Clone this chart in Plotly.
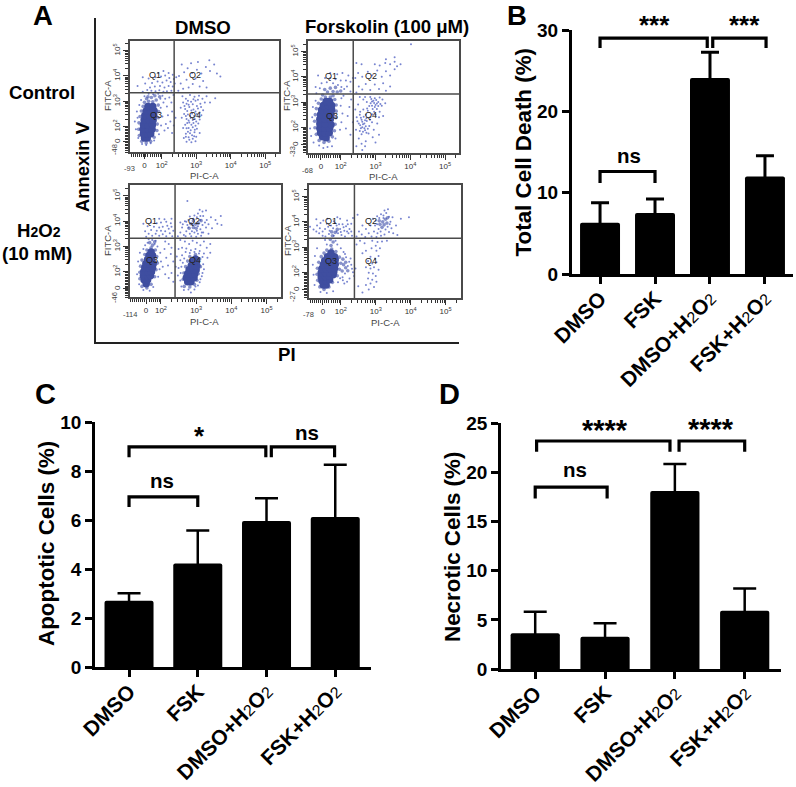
import numpy as np
import plotly.graph_objects as go

W, H = 796, 787
FONT = "Liberation Sans"

# ---------- bar chart data ----------
GROUPS = [0, 1, 2, 3]
SUB2 = '<span style="font-size:16px">2</span>'
GROUP_LABELS = ["<b>DMSO</b>", "<b>FSK</b>",
                f"<b>DMSO+H</b>{SUB2}<b>O</b>{SUB2}",
                f"<b>FSK+H</b>{SUB2}<b>O</b>{SUB2}"]
TOTAL_MEAN = [6.3, 7.5, 24.1, 12.0]
TOTAL_ERR = [2.47, 1.72, 3.17, 2.55]
APOPT_MEAN = [2.72, 4.24, 5.97, 6.13]
APOPT_ERR = [0.3, 1.34, 0.93, 2.14]
NECRO_MEAN = [3.63, 3.29, 18.1, 5.93]
NECRO_ERR = [2.2, 1.36, 2.75, 2.27]

# ---------- flow cytometry events (decade units) ----------
P1_CORE = [(1.5,1.55),(1.58,1.55),(1.47,1.72),(1.6,1.72),(1.68,1.72),(1.46,1.9),(1.6,1.9),(1.72,1.9),(1.47,2.08),(1.6,2.08),(1.73,2.08),
           (1.49,2.26),(1.62,2.26),(1.75,2.26),(1.51,2.44),(1.65,2.44),(1.77,2.44),(1.55,2.62),(1.68,2.62),(1.78,2.62),(1.6,2.8),(1.74,2.8)]
P1_MID = [(1.42,1.42),(1.55,1.36),(1.68,1.42),(1.78,1.58),(1.35,1.65),(1.33,1.9),(1.34,2.15),(1.37,2.4),(1.41,2.62),(1.46,2.8),(1.5,2.96),
          (1.86,1.85),(1.87,2.1),(1.9,2.35),(1.91,2.6),(1.9,2.85),(1.62,3.0),(1.74,2.98),(1.84,3.05),(1.7,3.15),(1.6,3.18),(1.8,3.22),(1.94,3.18),(1.56,3.1)]
P1_DOTS = [(1.25,1.9),(1.3,2.35),(1.28,2.6),(1.22,2.2),(1.35,2.85),(1.4,3.05),(1.32,1.55),(1.43,1.32),(1.55,1.28),(1.68,1.35),
 (1.78,1.45),(1.92,1.7),(1.98,2.05),(2.02,2.4),(1.97,2.75),(2.05,2.95),(1.96,3.1),(1.9,3.3),(2.02,3.22),(1.75,3.28),
 (1.62,3.3),(1.5,3.2),(1.45,3.38),(1.58,3.45),(1.7,3.42),(1.82,3.4),(1.93,3.44),(2.05,3.38),(2.15,3.4),(2.28,3.42),
 (1.66,3.55),(1.8,3.58),(1.95,3.6),(2.08,3.55),(2.2,3.6),(2.32,3.58),(1.52,3.7),(1.72,3.72),(1.88,3.78),(2.02,3.74),
 (2.14,3.82),(2.26,3.76),(2.38,3.7),(1.62,3.9),(1.82,3.95),(1.98,3.98),(2.1,4.02),(2.22,3.92),(2.35,3.88),(1.9,4.12),
 (2.05,4.2),(2.2,4.12),(2.32,4.05),(2.42,3.95),(1.45,3.95),(1.3,3.6),(2.12,2.1),(2.18,2.45),(2.25,2.2),(2.3,2.6),
 (2.15,2.8),(2.28,2.95),(2.22,3.15),(2.1,3.1),(2.34,3.25),(2.08,1.85),(2.18,1.95),(2.3,1.75),(2.35,2.05),(2.4,2.35),
 (2.48,3.42),(2.55,3.7),(2.62,3.5),(2.72,3.85),(2.78,3.55),(2.9,3.68),(2.98,3.9),(3.1,3.58),(3.2,3.8),(3.3,3.55),
 (2.5,4.0),(2.65,4.15),(2.75,4.3),(2.88,4.12),(3.02,4.25),(3.15,4.1),(3.28,4.35),(3.4,4.2),(3.52,4.45),(2.58,4.45),
 (2.85,4.5),(3.05,4.55),(3.38,4.62),(3.6,4.1),(3.7,3.98),(3.55,3.12),(3.3,3.2),(3.4,2.95),
 (2.6,3.2),(2.7,3.1),(2.82,3.25),(2.95,3.18),(3.08,3.22),(3.18,3.1),(3.25,2.95),(3.12,2.9),(2.98,3.02),(2.85,2.98),
 (2.72,2.9),(2.62,2.95),(2.55,2.75),(2.68,2.7),(2.8,2.78),(2.92,2.68),(3.05,2.72),(3.2,2.65),(3.15,2.45),(3.02,2.5),
 (2.88,2.52),(2.76,2.48),(2.65,2.5),(2.58,2.35),(2.72,2.3),(2.84,2.34),(2.96,2.3),(3.1,2.28),(3.06,2.12),(2.92,2.14),
 (2.8,2.16),(2.68,2.08),(2.62,1.95),(2.78,1.95),(2.9,1.98),(3.02,1.92),(3.1,1.75),(2.95,1.78),(2.82,1.74),(2.7,1.72),
 (2.64,1.55),(2.78,1.58),(2.9,1.52),(3.0,1.6),(2.72,1.4),(2.86,1.38),(2.98,1.42),
 (2.74,2.62),(2.86,2.64),(2.98,2.6),(3.1,2.56),(2.7,2.42),(2.82,2.42),(2.94,2.42),(3.06,2.4),(2.78,2.24),(2.9,2.26),
 (3.0,2.2),(2.74,2.14),(2.86,2.08),(2.98,2.04),(2.72,1.94),(2.84,1.86),(2.96,1.88),(2.76,1.8),(2.88,1.66),(2.7,1.6),
 (2.66,2.82),(2.78,2.86),(2.9,2.88),(3.02,2.82),(3.14,2.78),(2.76,3.02),(2.92,3.08),(3.05,3.06),(2.8,1.48),(2.94,1.62)]

P2_CORE = [(1.48,1.62),(1.58,1.58),(1.42,1.78),(1.55,1.78),(1.67,1.78),(1.4,1.96),(1.54,1.96),(1.68,1.96),(1.72,2.1),(1.4,2.14),(1.55,2.14),
           (1.4,2.32),(1.55,2.32),(1.7,2.32),(1.42,2.5),(1.57,2.5),(1.72,2.5),(1.45,2.68),(1.6,2.68),(1.74,2.68),(1.5,2.86),(1.64,2.86),(1.74,2.86),(1.58,3.02),(1.68,3.02)]
P2_MID = [(1.38,1.48),(1.52,1.4),(1.66,1.45),(1.76,1.62),(1.3,1.72),(1.26,1.98),(1.25,2.24),(1.27,2.5),(1.3,2.74),(1.36,2.95),(1.44,3.12),
          (1.82,1.86),(1.84,2.12),(1.86,2.38),(1.87,2.64),(1.87,2.88),(1.83,3.1),(1.56,3.2),(1.7,3.2),(1.78,3.25),(1.48,3.28),(1.62,3.4),(1.78,3.42),
          (1.9,3.4),(2.0,3.44),(1.54,3.5),(1.7,3.55),(1.85,3.58)]
P2_DOTS = [(1.12,1.95),(1.18,2.4),(1.15,1.65),(1.2,2.8),(1.28,3.05),(1.22,1.4),(1.38,1.28),(1.5,1.18),(1.62,1.22),(1.75,1.25),
 (1.85,1.55),(1.98,1.9),(2.02,2.2),(2.05,2.55),(2.0,2.85),(2.02,3.15),(2.08,3.25),(1.3,3.35),(1.4,3.55),(1.28,3.6),
 (1.45,3.75),(1.6,3.78),(1.78,3.75),(1.92,3.68),(2.02,3.6),(2.1,3.52),(2.18,3.62),(2.28,3.42),(1.55,3.95),(1.7,3.95),
 (1.85,3.9),(2.0,3.85),(2.15,3.85),(2.28,3.8),(2.35,3.95),(1.7,4.15),(1.9,4.1),(2.05,4.15),(2.22,4.05),(1.35,4.05),
 (2.25,2.8),(2.2,2.45),(2.3,3.1),(2.15,1.95),(2.35,2.2),(2.28,1.7),
 (2.45,3.38),(2.52,3.62),(2.62,3.5),(2.72,3.72),(2.85,3.48),(2.98,3.7),(3.1,3.52),(3.22,3.75),(3.3,3.45),(3.42,3.62),
 (2.42,3.95),(2.5,4.15),(2.62,4.0),(2.78,4.2),(2.9,4.05),(3.05,4.25),(3.18,4.0),(3.3,4.22),(3.42,4.05),(3.55,4.3),
 (2.45,4.55),(2.6,4.5),(2.98,4.5),(3.12,4.45),(3.28,4.55),(3.42,4.5),(3.55,4.6),(3.72,4.5),(3.55,4.78),(3.3,4.7),(3.62,4.42),(4.02,5.29),
 (2.5,2.9),(2.42,2.7),(2.46,2.4),(2.55,2.5),(2.52,2.15),(2.44,1.9),(2.55,1.85),(2.6,2.3),(2.68,2.15),(2.62,2.0),
 (2.72,2.5),(2.65,2.7),(2.78,2.65),(2.85,2.4),(2.75,2.25),(2.9,2.2),(2.82,2.05),(2.7,1.88),(2.6,1.72),(2.52,1.55),
 (2.8,1.75),(2.95,1.9),(3.05,2.15),(3.0,2.5),(2.92,2.72),(3.12,2.62),(3.18,2.85),(3.0,2.88),(2.86,2.95),(2.94,3.05),
 (2.88,3.12),(3.08,3.0),(2.98,3.15),(3.12,3.18),(3.2,3.1),(2.75,3.0),(2.65,3.1),(2.55,3.2),(3.28,2.95),(3.22,2.45),
 (2.92,1.6),(2.72,1.45),(2.6,1.35),(2.45,1.25),(2.62,1.1),(2.7,1.25),(3.0,1.4),(3.1,1.7),(2.85,3.2),(2.9,2.85),
 (2.58,2.38),(2.66,2.42),(2.74,2.36),(2.62,2.22),(2.7,2.28),(2.56,2.08),(2.64,2.12),(2.72,2.04),(2.58,1.96),(2.68,1.96),
 (2.78,1.94),(2.64,1.82),(2.74,1.78),(2.84,2.3),(2.96,2.62),(3.04,2.72),(2.96,2.96),(3.04,2.94),(2.9,3.02),(3.02,3.08),
 (3.08,2.84),(2.98,2.8),(3.14,2.92),(2.82,2.84),(2.76,2.74),(2.9,2.52),(3.1,2.4),(2.56,2.62),(2.48,2.24),(2.7,3.2)]

P3_CORE = [(1.58,1.52),(1.52,1.68),(1.62,1.68),(1.5,1.84),(1.62,1.84),(1.7,1.84),(1.51,2.0),(1.63,2.0),(1.73,2.0),(1.54,2.16),(1.66,2.16),(1.76,2.16),
           (1.57,2.32),(1.68,2.32),(1.78,2.32),(1.62,2.48),(1.74,2.48),(1.66,2.64),(1.76,2.64),(1.72,2.78),
           (2.76,1.6),(2.85,1.6),(2.72,1.76),(2.84,1.76),(2.94,1.76),(2.76,1.92),(2.86,1.92),(2.96,1.92),(2.8,2.08),(2.92,2.08),(3.0,2.08),
           (2.86,2.24),(2.97,2.24),(3.02,2.24),(2.9,2.4),(3.0,2.4),(2.98,2.5)]
P3_MID = [(1.46,1.42),(1.6,1.36),(1.72,1.5),(1.4,1.72),(1.4,1.98),(1.42,2.22),(1.46,2.46),(1.54,2.68),(1.6,2.86),(1.72,2.95),(1.84,2.86),
          (1.88,2.6),(1.9,2.34),(1.86,2.08),(1.82,1.8),(1.76,3.05),(1.68,3.15),(1.82,3.18),
          (2.66,1.42),(2.82,1.4),(2.95,1.5),(2.63,1.7),(2.65,1.95),(2.7,2.2),(2.76,2.42),(2.82,2.6),(2.98,2.68),(3.1,2.5),(3.12,2.2),(3.06,1.92),(3.02,1.66),
          (2.92,3.75),(2.98,3.88),(3.06,3.92),(2.85,3.9),(3.0,3.72),(3.14,4.02),(2.92,4.02),(2.8,3.72)]
P3_DOTS = [(1.32,1.9),(1.35,2.4),(1.4,2.75),(1.5,2.9),(1.38,1.5),(1.5,1.28),(1.68,1.25),(1.55,3.05),(1.62,3.15),(1.82,3.1),
 (1.9,3.0),(1.98,2.75),(2.0,2.4),(1.96,2.1),(1.92,1.8),(1.78,1.4),(1.65,3.28),(1.75,3.25),(1.85,3.22),(1.58,3.38),
 (1.65,3.5),(1.75,3.42),(1.85,3.5),(1.95,3.42),(2.05,3.48),(2.15,3.4),(2.25,3.52),(2.32,3.4),(1.55,3.6),(1.72,3.65),
 (1.88,3.62),(2.0,3.62),(2.12,3.6),(2.22,3.7),(2.35,3.62),(1.62,3.8),(1.8,3.78),(1.95,3.75),(2.05,3.78),(2.18,3.82),
 (2.3,3.78),(1.72,3.95),(1.88,3.92),(2.0,3.95),(2.15,3.98),(2.28,3.92),(1.95,4.1),(2.1,4.08),(2.3,4.1),(1.5,3.9),
 (2.1,2.9),(2.15,2.55),(2.05,2.2),(2.2,2.25),(2.12,1.9),(2.28,2.7),(2.3,2.95),(2.22,3.1),(2.12,3.2),(2.35,2.4),
 (2.3,1.95),(2.22,1.75),(2.35,1.6),(2.42,2.2),(2.45,2.6),(2.5,2.9),(2.55,2.45),(2.5,2.15),(2.48,1.85),(2.55,1.65),
 (2.48,3.4),(2.55,3.55),(2.65,3.45),(2.6,3.75),(2.72,3.6),(2.78,3.75),(2.82,3.5),(2.95,3.55),(3.05,3.5),(3.12,3.68),
 (3.2,3.55),(3.28,3.75),(3.35,3.5),(3.45,3.72),(2.55,3.95),(2.68,4.0),(2.78,4.05),(2.92,4.1),(3.02,4.15),(3.12,4.05),
 (3.2,4.2),(3.3,4.05),(3.42,4.15),(3.55,4.05),(3.6,3.9),(3.05,4.3),(3.18,4.38),(3.28,4.42),(3.1,4.45),(3.7,4.2),
 (3.72,3.85),(2.75,4.8),(2.55,3.25),(2.68,3.2),(2.8,3.1),(2.9,3.22),(3.02,3.15),(3.12,3.05),(3.22,3.2),(3.3,2.95),
 (3.4,3.1),(2.6,2.95),(2.72,2.92),(2.85,2.85),(2.98,2.9),(3.1,2.82),(3.22,2.72),(3.32,2.55),(2.6,2.65),(2.62,2.35),
 (3.2,2.3),(3.18,1.95),(3.12,1.7),(3.05,1.45),(2.95,1.3),(2.78,1.3),(2.65,1.28),(2.58,1.42),(2.85,1.18),(3.4,2.75),
 (2.7,3.4),(2.86,3.4),(3.0,3.38),(3.14,3.42),(2.75,3.85),(2.9,3.85),(3.05,3.8),(3.18,3.85),(3.25,3.95),(3.35,3.88),
 (2.62,3.88),(2.72,3.98),(2.82,4.18),(2.95,4.22),(3.12,4.2),(2.88,3.6),(3.02,3.62),(3.16,3.55),(2.7,2.78),(2.82,2.74),
 (2.95,2.78),(3.08,2.72),(3.18,2.58),(2.66,2.52),(2.58,2.2),(2.56,1.95),(3.22,2.1),(3.16,1.82),(3.1,1.58),(2.98,1.42)]

P4_CORE = [(1.5,1.5),(1.58,1.5),(1.46,1.66),(1.58,1.66),(1.68,1.7),(1.44,1.82),(1.56,1.82),(1.68,1.84),(1.78,1.9),(1.44,1.98),(1.56,1.98),(1.68,1.98),(1.8,2.02),
           (1.46,2.14),(1.58,2.14),(1.7,2.14),(1.82,2.16),(1.5,2.3),(1.62,2.3),(1.74,2.3),(1.84,2.32),(1.54,2.46),(1.66,2.46),(1.78,2.46),(1.84,2.5),(1.62,2.62),(1.74,2.62),(1.82,2.62),(1.72,2.76)]
P4_MID = [(1.4,1.42),(1.52,1.32),(1.66,1.42),(1.76,1.6),(1.34,1.68),(1.32,1.92),(1.33,2.16),(1.37,2.4),(1.44,2.62),(1.52,2.76),(1.6,2.88),
          (1.74,2.92),(1.86,2.82),(1.96,2.6),(2.0,2.36),(1.96,2.12),(1.9,1.86),(2.08,2.3),(2.14,2.18),(2.04,2.05),(2.2,2.06),(2.14,2.4),(2.06,2.52),
          (1.72,3.06),(1.78,3.2),(1.7,3.3),(1.76,3.45),(1.84,3.58),(1.9,3.7),(1.74,3.6),
          (3.2,4.0),(3.28,4.1),(3.12,3.9),(3.32,3.95),(3.18,3.78),(3.24,3.88),(3.1,4.04),(3.34,4.16)]
P4_DOTS = [(1.22,1.9),(1.2,2.3),(1.26,2.65),(1.32,2.95),(1.25,1.5),(1.42,1.22),(1.6,1.18),(1.78,1.25),(1.92,1.6),(2.05,1.8),
 (2.12,1.95),(2.25,1.75),(2.3,2.3),(2.28,2.55),(2.15,2.6),(2.08,2.8),(2.0,2.95),(1.9,3.1),(1.6,3.1),(1.55,3.28),
 (1.85,3.25),(2.35,2.0),(2.42,2.15),(2.38,1.85),(2.1,1.55),
 (1.22,3.7),(1.32,3.85),(1.38,3.55),(1.48,3.45),(1.55,3.72),(1.42,3.95),(1.6,3.92),(1.68,3.65),(1.72,3.85),(1.8,4.02),
 (1.62,4.12),(1.88,3.85),(1.92,3.55),(1.98,3.72),(2.02,3.48),(2.05,3.9),(2.1,3.65),(2.15,3.82),(2.12,3.42),(2.22,3.55),
 (2.25,3.72),(2.3,3.92),(2.32,3.45),(2.18,4.05),(1.98,4.12),(2.35,4.15),(1.9,4.18),(1.5,4.05),(1.3,4.1),(1.12,3.8),
 (2.45,3.42),(2.52,3.62),(2.48,4.28),(2.6,3.5),(2.7,3.4),(2.62,3.85),(2.8,3.55),(2.72,3.72),(2.88,3.42),(2.95,3.62),
 (2.85,3.85),(2.98,3.85),(3.0,4.05),(2.92,4.12),(3.05,3.55),(3.02,3.4),(3.08,3.72),(3.1,4.15),(3.15,4.3),(3.22,4.25),
 (3.3,4.35),(3.38,4.2),(3.42,4.0),(3.48,4.18),(3.45,3.75),(3.38,3.6),(3.5,3.55),(3.25,3.5),(3.15,3.45),(3.58,3.85),
 (3.62,3.48),(3.35,4.5),(3.25,4.45),(3.72,4.12),(3.95,4.18),(2.55,3.25),(2.68,3.15),(2.45,3.1),(2.9,3.25),(3.05,3.2),
 (3.18,3.22),(3.32,3.25),(3.0,3.05),(3.12,2.95),(3.02,2.85),(2.88,2.95),(2.72,2.85),(2.62,2.75),(2.85,2.62),(2.98,2.55),
 (3.08,2.65),(2.78,2.45),(2.9,2.35),(3.02,2.4),(2.72,2.2),(2.85,2.15),(2.95,2.2),(3.08,2.1),(2.8,1.98),(2.92,1.95),
 (3.0,1.85),(2.78,1.75),(2.9,1.7),(3.02,1.62),(2.85,1.55),(2.72,1.5),(2.95,1.42),(2.8,1.32),(2.62,1.2),(2.5,1.45),
 (1.56,3.42),(1.66,3.52),(1.8,3.45),(1.88,3.62),(1.78,3.75),(1.64,3.8),(1.84,3.95),(1.95,3.9),(2.0,3.6),(2.08,3.78),
 (2.18,3.62),(2.2,3.9),(1.48,3.62),(1.4,3.75),(1.3,3.62),(2.3,3.62),(3.04,3.9),(3.14,3.62),(3.28,3.7),(3.34,3.8),
 (3.4,3.9),(3.22,4.15),(3.04,4.22),(2.2,2.25),(2.24,2.42),(2.32,2.14),(2.06,1.68),(2.18,1.62),(1.98,1.76),(2.12,2.72)]

# gate positions and quadrant label positions (decade units)
GATES = [(2.36, 3.34), (2.36, 3.32), (2.40, 3.32), (2.39, 3.35)]
Q_LABELS = ["Q1", "Q2", "Q3", "Q4"]
Q_POS = [[(1.8,4.04),(2.97,4.04),(1.82,2.47),(2.97,2.47)],
         [(1.72,4.03),(2.87,4.03),(1.76,2.46),(2.87,2.47)],
         [(1.72,4.02),(2.95,4.02),(1.75,2.46),(2.98,2.46)],
         [(1.72,4.02),(2.87,4.02),(1.72,2.46),(2.87,2.46)]]

DECADE_LABELS = ["0", "10<sup>2</sup>", "10<sup>3</sup>", "10<sup>4</sup>", "10<sup>5</sup>"]
FLOW_RANGES_X = [(1.08,5.40),(1.06,5.40),(1.12,5.41),(1.09,5.44)]
FLOW_RANGES_Y = [(1.00,5.38),(0.98,5.42),(1.00,5.43),(0.98,5.46)]
FLOW_ZERO_X = [1.5, 1.43, 1.575, 1.49]
FLOW_ZERO_Y = [1.4, 1.3, 1.32, 1.3]
FLOW_MIN_X = ["-93", "-68", "-114", "-78"]
FLOW_MIN_Y = ["-48", "-33", "-46", "-27"]

# ---------- geometry helpers ----------
def xdom(a, b):
    return [a / W, b / W]
def ydom(top, bottom):
    return [1 - bottom / H, 1 - top / H]
def px(x, y, text, size, bold=False, color="black", angle=0):
    return dict(x=x / W, y=1 - y / H, xref="paper", yref="paper", text=f"<b>{text}</b>" if bold else text,
                showarrow=False, xanchor="center", yanchor="middle", textangle=angle,
                font=dict(family=FONT, size=size, color=color))
def ids(n):
    s = "" if n == 1 else str(n)
    return "x" + s, "y" + s, "xaxis" + s, "yaxis" + s

fig = go.Figure()
layout = {}
ann = []
shapes = []

# ---------- flow panels ----------
FLOW_BOX = [(130,279,41,152),(308,459,41,153),(130,281,185,297),(309,461,185,298)]
LINE = "#4a4a4a"
log_minor = [d + np.log10(m) for d in (2,3,4,5) for m in range(2,10)]
linear_minor = list(np.arange(1.0, 2.0, 0.06))

panels = [(P1_CORE,P1_MID,P1_DOTS),(P2_CORE,P2_MID,P2_DOTS),(P3_CORE,P3_MID,P3_DOTS),(P4_CORE,P4_MID,P4_DOTS)]
FLOW_XLAB = [(204,175),(383,176),(205,321),(385,322)]
FLOW_YLAB = [(107,96),(286,96),(107,241),(287,241)]
FLOW_XMIN = [(129,168),(307,170),(130,315),(308,315)]
FLOW_YMIN = [(114,150),(292,152),(115,297),(293,297)]

for i, (core, mid, dots) in enumerate(panels):
    xa, ya, xk, yk = ids(i + 1)
    for pts, size, col in [(dots, 2.0, "rgba(66,84,190,0.72)"), (mid, 3.6, "rgba(62,78,170,0.62)"), (core, 7.5, "#3f4ea0")]:
        fig.add_trace(go.Scatter(x=[p[0] for p in pts], y=[p[1] for p in pts], mode="markers", xaxis=xa, yaxis=ya,
                                 marker=dict(size=size, color=col, line=dict(width=0)),
                                 showlegend=False, hoverinfo="skip"))
    x0, x1, y0, y1 = FLOW_BOX[i]
    common = dict(showgrid=False, zeroline=False, showline=True, mirror=True, linecolor=LINE, linewidth=1.5,
                  ticks="outside", ticklen=5, tickwidth=1, tickcolor="#333", automargin=False,
                  tickfont=dict(family=FONT, size=8, color="#333"), tickmode="array")
    minor = dict(ticks="outside", ticklen=3, tickwidth=1, tickcolor="#333", tickmode="array",
                 tickvals=linear_minor + log_minor)
    layout[xk] = dict(common, domain=xdom(x0, x1), range=list(FLOW_RANGES_X[i]), anchor=ya,
                      tickvals=[FLOW_ZERO_X[i], 2, 3, 4, 5], ticktext=DECADE_LABELS, tickangle=0, minor=minor)
    layout[yk] = dict(common, domain=ydom(y0, y1), range=list(FLOW_RANGES_Y[i]), anchor=xa,
                      tickvals=[FLOW_ZERO_Y[i], 2, 3, 4, 5], ticktext=DECADE_LABELS, tickangle=-90, minor=minor)
    gx, gy = GATES[i]
    shapes.append(dict(type="line", xref=xa, yref=f"{ya} domain", x0=gx, x1=gx, y0=0, y1=1, line=dict(color=LINE, width=1.5)))
    shapes.append(dict(type="line", xref=f"{xa} domain", yref=ya, x0=0, x1=1, y0=gy, y1=gy, line=dict(color=LINE, width=1.5)))
    for lab, (qx, qy) in zip(Q_LABELS, Q_POS[i]):
        ann.append(dict(x=qx, y=qy, xref=xa, yref=ya, text=lab, showarrow=False,
                        font=dict(family=FONT, size=9, color="#222")))
    ann.append(px(*FLOW_XLAB[i], "PI-C-A", 9.5, color="#444"))
    ann.append(px(*FLOW_YLAB[i], "FITC-A", 9.5, color="#444", angle=-90))
    ann.append(px(*FLOW_XMIN[i], FLOW_MIN_X[i], 7.5, color="#444"))
    ann.append(px(*FLOW_YMIN[i], FLOW_MIN_Y[i], 7.5, color="#444", angle=-90))

# big L-shaped axes round panel A
layout["xaxis5"] = dict(domain=xdom(96, 459), anchor="y5", range=[0, 1], showline=True, linecolor="#222", linewidth=2,
                        showticklabels=False, ticks="", showgrid=False, zeroline=False)
layout["yaxis5"] = dict(domain=ydom(18, 342), anchor="x5", range=[0, 1], showline=True, linecolor="#222", linewidth=2,
                        showticklabels=False, ticks="", showgrid=False, zeroline=False)
fig.add_trace(go.Scatter(x=[None], y=[None], xaxis="x5", yaxis="y5", showlegend=False, hoverinfo="skip"))

# ---------- bar panels ----------
BAR_PANELS = [
    dict(n=6, means=TOTAL_MEAN, errs=TOTAL_ERR, box=(572,793,30,274), xr=[-0.51,3.51], yr=[0,30], dt=10,
         title="Total Cell Death (%)", tx=523, ty=152.5, w=0.727, cap=9, lw=3, tick=19),
    dict(n=7, means=APOPT_MEAN, errs=APOPT_ERR, box=(95,371,422.3,667.3), xr=[-0.495,3.52], yr=[0,10], dt=2,
         title="Apoptotic Cells (%)", tx=46, ty=544, w=0.713, cap=11.5, lw=2.5, tick=19),
    dict(n=8, means=NECRO_MEAN, errs=NECRO_ERR, box=(501,781,423.3,669), xr=[-0.49,3.52], yr=[0,25], dt=5,
         title="Necrotic Cells (%)", tx=452, ty=547, w=0.705, cap=11.5, lw=2.5, tick=19),
]
# brackets: (x values, y values) in data units
BRACKETS = {
    6: [([0,0,1,1],[11.2,12.6,12.6,11.2]), ([0,0,1.95,1.95],[27.8,29.0,29.0,27.8]), ([2.05,2.05,3.02,3.02],[27.8,29.0,29.0,27.8])],
    7: [([0,0,1,1],[6.54,6.96,6.96,6.54]), ([0,0,1.99,1.99],[8.57,9.0,9.0,8.57]), ([2.07,2.07,2.99,2.99],[8.57,9.0,9.0,8.57])],
    8: [([0,0,1.03,1.03],[17.35,18.5,18.5,17.35]), ([0.02,0.02,1.93,1.93],[22.1,23.2,23.2,22.1]), ([2.06,2.06,3.0,3.0],[22.1,23.2,23.2,22.1])],
}
for p in BAR_PANELS:
    xa, ya, xk, yk = ids(p["n"])
    fig.add_trace(go.Bar(x=GROUPS, y=p["means"], width=p["w"], xaxis=xa, yaxis=ya, marker=dict(color="black", line=dict(width=0)),
                         error_y=dict(type="data", symmetric=True, array=p["errs"],
                                      color="black", thickness=p["lw"], width=p["cap"]),
                         showlegend=False, hoverinfo="skip"))
    for bx, by in BRACKETS[p["n"]]:
        fig.add_trace(go.Scatter(x=bx, y=by, mode="lines", xaxis=xa, yaxis=ya, line=dict(color="black", width=3.2),
                                 showlegend=False, hoverinfo="skip"))
    x0, x1, y0, y1 = p["box"]
    layout[xk] = dict(domain=xdom(x0, x1), range=p["xr"], anchor=ya, showline=True, linecolor="black", linewidth=p["lw"],
                      tickvals=GROUPS, ticktext=GROUP_LABELS, tickangle=-45, ticks="outside", ticklen=7, tickwidth=p["lw"],
                      tickcolor="black", showgrid=False, zeroline=False, automargin=False, ticklabelstandoff=-6,
                      tickfont=dict(family=FONT, size=21, color="black"))
    layout[yk] = dict(domain=ydom(y0, y1), range=p["yr"], anchor=xa, showline=True, linecolor="black", linewidth=p["lw"],
                      dtick=p["dt"], ticks="outside", ticklen=7, tickwidth=p["lw"], tickcolor="black", automargin=False,
                      showgrid=False, zeroline=False, tickfont=dict(family=FONT, size=p["tick"], color="black", weight="bold"))
    ann.append(px(p["tx"], p["ty"], p["title"], 22.4, True, angle=-90))

# ---------- free text ----------
H2O2 = 'H<span style="font-size:14px">2</span>O<span style="font-size:14px">2</span>'
for args in [
    (43,15.8,"A",27.5,True),(517,15.8,"B",27.5,True),(45,394,"C",29,True),(450,394,"D",29,True),
    (203,27,"DMSO",18.6,True),(387,26,"Forskolin (100 μM)",18.6,True),
    (42,92,"Control",18.6,True),(39,230,H2O2,18.6,True),(37,253,"(10 mM)",18.6,True),
    (287,354,"PI",18.6,True),
    (654,25,"***",26,True),(744,25,"***",26,True),(629,155,"ns",20.5,True),
    (200,436,"*",26,True),(307,432,"ns",20.5,True),(162,480,"ns",20.5,True),
    (605,430,"****",29,True),(711,429,"****",29,True),(575,469,"ns",20.5,True),
]:
    ann.append(px(*args))
ann.append(px(82,167,"Annexin V",18.4,True,angle=-90))

fig.update_layout(width=W, height=H, margin=dict(l=0,r=0,t=0,b=0,pad=0,autoexpand=False), paper_bgcolor="white", plot_bgcolor="rgba(0,0,0,0)",
                  annotations=ann, shapes=shapes, font=dict(family=FONT), showlegend=False, barcornerradius=2, **layout)
fig.write_html("out.html", post_script="document.body.style.margin='0';", config={"displayModeBar": False})
